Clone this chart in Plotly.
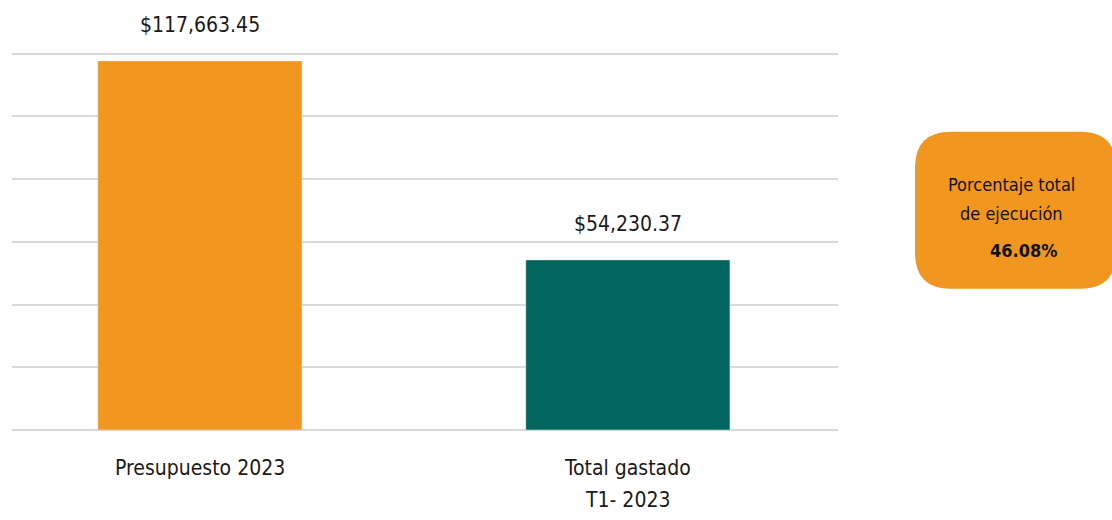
import plotly.graph_objects as go

categories = ["Presupuesto 2023", "Total gastado"]
category_sublines = ["", "T1- 2023"]
values = [117663.45, 54230.37]
value_labels = ["$117,663.45", "$54,230.37"]
bar_colors = ["#F1961F", "#02665F"]
box_lines = ["Porcentaje total", "de ejecución"]
pct_label = "46.08%"

FONT = "DejaVu Sans Condensed, Liberation Sans Narrow, sans-serif"
W, H = 1112, 520
Y_TOP = 120500
L, R, B = 12, 838, 430  # plot area in pixels
T = B - 376 * Y_TOP / 120000


def px_x(x):
    return (x - L) / (R - L)


def px_y(y):
    return (B - y) / (B - T)


def rounded_box(x0, y0, x1, y1, r):
    pts = [
        f"M {px_x(x0 + r)} {px_y(y0)}",
        f"L {px_x(x1 - r)} {px_y(y0)}",
        f"Q {px_x(x1)} {px_y(y0)} {px_x(x1)} {px_y(y0 + r)}",
        f"L {px_x(x1)} {px_y(y1 - r)}",
        f"Q {px_x(x1)} {px_y(y1)} {px_x(x1 - r)} {px_y(y1)}",
        f"L {px_x(x0 + r)} {px_y(y1)}",
        f"Q {px_x(x0)} {px_y(y1)} {px_x(x0)} {px_y(y1 - r)}",
        f"L {px_x(x0)} {px_y(y0 + r)}",
        f"Q {px_x(x0)} {px_y(y0)} {px_x(x0 + r)} {px_y(y0)}",
        "Z",
    ]
    return " ".join(pts)


fig = go.Figure()
fig.add_trace(go.Bar(
    x=categories, y=values, marker_color=bar_colors, width=0.477,
    hoverinfo="skip",
))

# value labels above bars
for cat, val, lab in zip(categories, values, value_labels):
    fig.add_annotation(
        x=cat, y=val, text=lab, showarrow=False, yanchor="bottom", yshift=22,
        font=dict(family=FONT, size=21, color="#1a1a1a"),
    )

# category labels under the axis
for cat, sub in zip(categories, category_sublines):
    for i, line in enumerate([cat, sub]):
        if not line:
            continue
        fig.add_annotation(
            x=cat, y=0, yref="y", text=line, showarrow=False,
            yanchor="middle", yshift=-(38 + 32 * i),
            font=dict(family=FONT, size=21, color="#1a1a1a"),
        )

fig.add_shape(
    type="path", xref="paper", yref="paper",
    path=rounded_box(915, 132, 1116, 289, 36),
    fillcolor="#F1961F", line=dict(width=0), layer="above",
)
for i, line in enumerate(box_lines):
    fig.add_annotation(
        xref="paper", yref="paper", x=px_x(1011), y=px_y(185 + 29 * i),
        xanchor="center", yanchor="middle", text=line, showarrow=False,
        font=dict(family=FONT, size=18, color="#111111"),
    )
fig.add_annotation(
    xref="paper", yref="paper", x=px_x(1023), y=px_y(251),
    xanchor="center", yanchor="middle",
    text=f"<b>{pct_label}</b>", showarrow=False,
    font=dict(family=FONT, size=18, color="#111111"),
)

fig.update_layout(
    width=W, height=H,
    margin=dict(l=L, r=W - R, t=T, b=H - B),
    plot_bgcolor="white", paper_bgcolor="white",
    showlegend=False,
    xaxis=dict(
        range=[-0.439, 1.491], showgrid=False, showline=False, ticks="",
        showticklabels=False,
    ),
    yaxis=dict(
        range=[0, Y_TOP], dtick=20000, showticklabels=False,
        gridcolor="#d9d9d9", gridwidth=1.5, zeroline=True,
        zerolinecolor="#d9d9d9", zerolinewidth=1.5, showline=False,
    ),
)

fig.write_html(
    "out.html",
    config={"displayModeBar": False},
    post_script="document.body.style.margin='0';",
)
